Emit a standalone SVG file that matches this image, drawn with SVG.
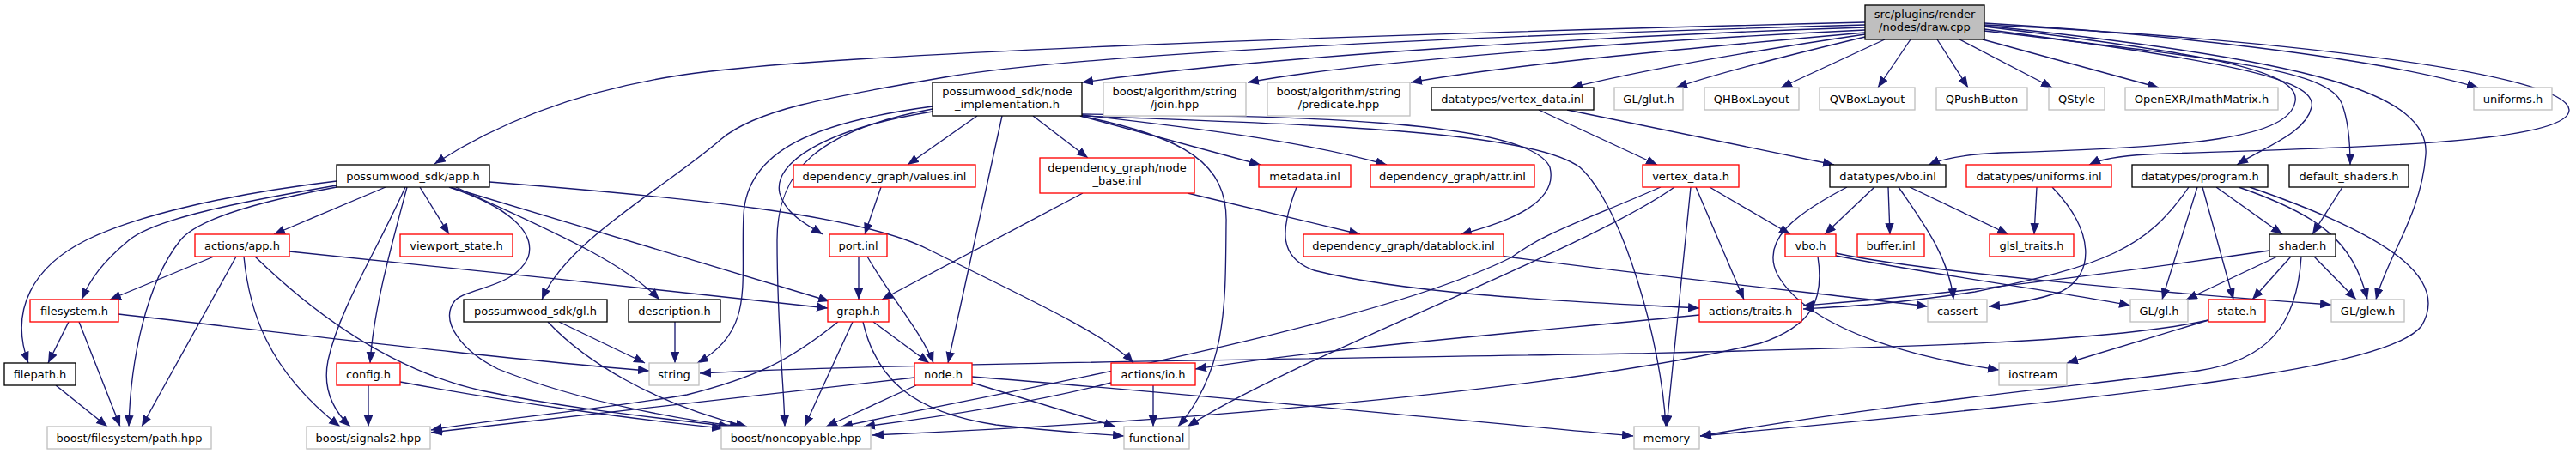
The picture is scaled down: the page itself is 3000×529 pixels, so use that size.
<svg xmlns="http://www.w3.org/2000/svg" width="3000" height="529" viewBox="0 0 3000 529">
<defs>
<style>
.e path{fill:none;stroke:#191970;stroke-width:1.33;marker-end:url(#ar)}
.n rect{fill:#fff;stroke-width:1.33}
.doc rect{stroke:#000}
.trunc rect{stroke:#ff0000}
.undoc rect{stroke:#bfbfbf}
.root rect{fill:#bfbfbf;stroke:#000}
text{font-family:"DejaVu Sans","Liberation Sans",sans-serif;font-size:13px;text-anchor:middle;fill:#000}
</style>
<marker id="ar" markerUnits="userSpaceOnUse" markerWidth="15" markerHeight="12" refX="13" refY="5.25" orient="auto">
<path d="M0,0 L13,5.25 L0,10.5 Z" fill="#191970"/>
</marker>
</defs>
<rect width="3000" height="529" fill="#fff"/>
<g id="edges" class="e">
<path d="M2172,26 C1600,40 950,62 790,88 C700,102 600,130 506,191"/>
<path d="M2172,29 C1700,42 1250,64 1100,90 C960,114 880,128 840,162 C780,215 660,280 631,349"/>
<path d="M2172,32 C1850,42 1450,68 1260,96"/>
<path d="M2172,35 C1900,48 1580,72 1453,96"/>
<path d="M2172,38 C1980,55 1760,75 1643,96"/>
<path d="M2172,40 C2050,58 1920,80 1830,102"/>
<path d="M2172,43 C2080,65 2000,85 1952,102"/>
<path d="M2195,46 L2074,102"/>
<path d="M2225,46 L2187,102"/>
<path d="M2256,46 L2292,102"/>
<path d="M2282,46 L2390,102"/>
<path d="M2309,46 L2514,102"/>
<path d="M2311,27 C2500,38 2760,65 2886,102"/>
<path d="M2311,31 C2550,60 2680,80 2673,118 C2666,160 2560,172 2330,178 C2285,180 2262,185 2246,192"/>
<path d="M2311,29 C2650,45 2990,85 2992,128 C2993,170 2700,172 2500,180 C2465,182 2445,186 2433,192"/>
<path d="M2311,34 C2580,70 2700,90 2692,125 C2685,155 2640,170 2605,192"/>
<path d="M2311,36 C2600,70 2710,82 2727,120 C2735,140 2737,165 2737,192"/>
<path d="M2311,30 C2700,70 2830,110 2825,180 C2820,250 2780,300 2767,349"/>
<path d="M1138,135 L1057,192"/>
<path d="M1203,135 L1267,184"/>
<path d="M1086,130 C960,150 900,190 908,225 C915,250 940,262 958,273"/>
<path d="M1086,124 C950,142 870,175 866,250 C862,330 880,385 812,423"/>
<path d="M1086,127 C950,152 905,200 905,280 C905,380 913,450 914,497"/>
<path d="M1167,135 L1104,423"/>
<path d="M1258,135 C1380,160 1430,190 1428,260 C1427,350 1430,430 1372,497"/>
<path d="M1258,135 L1468,192"/>
<path d="M1260,134 C1400,150 1520,165 1615,192"/>
<path d="M1260,133 C1450,135 1780,135 1805,195 C1815,235 1760,258 1701,273"/>
<path d="M1260,135 C1500,145 1780,150 1840,195 C1890,240 1935,400 1940,497"/>
<path d="M392,211 C250,228 150,255 100,280 C40,310 10,360 33,423"/>
<path d="M392,216 C280,235 180,255 150,280 C120,305 105,325 95,349"/>
<path d="M392,218 C300,235 230,255 210,280 C170,330 152,420 150,497"/>
<path d="M449,218 L319,273"/>
<path d="M489,218 L523,273"/>
<path d="M472,218 C440,290 395,360 382,420 C375,455 390,480 408,497"/>
<path d="M474,218 C455,290 435,360 431,423"/>
<path d="M524,218 L966,351"/>
<path d="M531,218 C620,260 720,300 768,349"/>
<path d="M523,218 C590,240 625,270 615,300 C600,335 545,335 530,350 C510,375 540,410 580,430 C680,470 800,490 863,497"/>
<path d="M570,212 C800,230 1000,250 1080,290 C1180,340 1290,390 1320,423"/>
<path d="M249,299 L128,349"/>
<path d="M275,299 L165,497"/>
<path d="M284,299 C290,360 310,430 396,497"/>
<path d="M297,299 C360,360 450,430 560,455 C680,480 800,490 850,497"/>
<path d="M337,293 C500,310 800,340 964,359"/>
<path d="M80,375 L56,423"/>
<path d="M92,375 L140,497"/>
<path d="M138,366 C350,390 600,420 756,432"/>
<path d="M65,449 L125,497"/>
<path d="M429,449 L429,497"/>
<path d="M466,445 C600,470 750,490 842,499"/>
<path d="M651,375 L751,423"/>
<path d="M638,375 C680,420 760,470 870,497"/>
<path d="M786,375 L786,423"/>
<path d="M1017,375 L1082,423"/>
<path d="M993,375 L937,497"/>
<path d="M976,375 C920,420 880,440 800,460 C680,480 560,490 502,501"/>
<path d="M1005,375 C1020,440 1060,480 1160,495 C1230,503 1270,505 1309,508"/>
<path d="M1000,299 L1000,349"/>
<path d="M1010,299 C1040,350 1075,390 1087,423"/>
<path d="M1026,218 L1007,273"/>
<path d="M1261,225 L1027,349"/>
<path d="M1383,225 L1584,273"/>
<path d="M1510,218 C1490,270 1490,300 1530,315 C1650,345 1850,352 1979,359"/>
<path d="M1746,298 C1950,325 2150,345 2245,357"/>
<path d="M1792,128 L1930,192"/>
<path d="M1825,128 L2136,192"/>
<path d="M1991,218 L2085,273"/>
<path d="M1975,218 L2031,349"/>
<path d="M1969,218 L1941,497"/>
<path d="M1934,218 C1850,255 1800,270 1760,300 C1600,380 1200,450 980,497"/>
<path d="M1950,218 C1850,290 1500,420 1383,497"/>
<path d="M2183,218 L2125,273"/>
<path d="M2199,218 L2201,273"/>
<path d="M2211,218 C2240,260 2270,300 2275,349"/>
<path d="M2224,218 L2339,273"/>
<path d="M2151,218 C2090,250 2050,280 2070,320 C2110,390 2250,420 2328,431"/>
<path d="M2372,218 L2369,273"/>
<path d="M2390,218 C2440,270 2440,320 2400,340 C2370,350 2340,355 2316,357"/>
<path d="M2138,298 C2250,320 2400,340 2481,356"/>
<path d="M2138,295 C2230,315 2500,340 2715,355"/>
<path d="M2117,299 C2125,350 2110,380 2050,400 C1800,460 1300,495 1016,507"/>
<path d="M2549,218 C2500,290 2450,310 2300,340 C2200,355 2150,357 2100,360"/>
<path d="M2559,218 L2518,349"/>
<path d="M2565,218 L2601,349"/>
<path d="M2581,218 L2658,273"/>
<path d="M2607,218 C2700,250 2740,280 2757,349"/>
<path d="M2620,218 C2800,280 2850,330 2820,380 C2780,430 2500,460 1980,508"/>
<path d="M2728,218 L2693,273"/>
<path d="M2643,292 C2450,320 2250,345 2100,356"/>
<path d="M2652,299 L2546,349"/>
<path d="M2668,299 L2623,349"/>
<path d="M2695,299 L2744,349"/>
<path d="M2680,299 C2675,380 2640,420 2560,432 C2420,450 2200,470 1980,508"/>
<path d="M2572,373 L2407,423"/>
<path d="M2572,373 C2450,400 2200,405 1900,412 C1400,420 1000,425 815,435"/>
<path d="M1979,367 C1800,385 1550,405 1392,430"/>
<path d="M1065,440 C900,460 700,480 502,504"/>
<path d="M1067,449 L962,497"/>
<path d="M1132,446 L1299,497"/>
<path d="M1132,439 C1400,460 1700,490 1902,508"/>
<path d="M1343,449 L1343,497"/>
<path d="M1294,446 C1200,470 1100,485 1006,497"/>
</g>
<g id="n_draw" class="n root"><rect x="2172" y="6" width="139" height="40"/><text x="2241.5" y="21">src/plugins/render</text><text x="2241.5" y="36">/nodes/draw.cpp</text></g>
<g id="n_node_impl" class="n doc"><rect x="1086" y="96" width="174" height="39"/><text x="1173" y="110.5">possumwood_sdk/node</text><text x="1173" y="125.5">_implementation.h</text></g>
<g id="n_join" class="n undoc"><rect x="1285" y="96" width="166" height="39"/><text x="1368" y="110.5">boost/algorithm/string</text><text x="1368" y="125.5">/join.hpp</text></g>
<g id="n_predicate" class="n undoc"><rect x="1476" y="96" width="166" height="39"/><text x="1559" y="110.5">boost/algorithm/string</text><text x="1559" y="125.5">/predicate.hpp</text></g>
<g id="n_vertex_data_inl" class="n doc"><rect x="1667" y="102" width="189" height="26"/><text x="1761.5" y="119.5">datatypes/vertex_data.inl</text></g>
<g id="n_glut" class="n undoc"><rect x="1880" y="102" width="80" height="26"/><text x="1920" y="119.5">GL/glut.h</text></g>
<g id="n_qhbox" class="n undoc"><rect x="1985" y="102" width="110" height="26"/><text x="2040" y="119.5">QHBoxLayout</text></g>
<g id="n_qvbox" class="n undoc"><rect x="2119" y="102" width="111" height="26"/><text x="2174.5" y="119.5">QVBoxLayout</text></g>
<g id="n_qpush" class="n undoc"><rect x="2255" y="102" width="106" height="26"/><text x="2308" y="119.5">QPushButton</text></g>
<g id="n_qstyle" class="n undoc"><rect x="2386" y="102" width="65" height="26"/><text x="2418.5" y="119.5">QStyle</text></g>
<g id="n_openexr" class="n undoc"><rect x="2475" y="102" width="178" height="26"/><text x="2564" y="119.5">OpenEXR/ImathMatrix.h</text></g>
<g id="n_uniforms_h" class="n undoc"><rect x="2881" y="102" width="91" height="26"/><text x="2926.5" y="119.5">uniforms.h</text></g>
<g id="n_app_h" class="n doc"><rect x="392" y="192" width="178" height="26"/><text x="481" y="209.5">possumwood_sdk/app.h</text></g>
<g id="n_values" class="n trunc"><rect x="924" y="192" width="212" height="26"/><text x="1030" y="209.5">dependency_graph/values.inl</text></g>
<g id="n_node_base" class="n trunc"><rect x="1211" y="184" width="180" height="41"/><text x="1301" y="199.5">dependency_graph/node</text><text x="1301" y="214.5">_base.inl</text></g>
<g id="n_metadata" class="n trunc"><rect x="1466" y="192" width="107" height="26"/><text x="1519.5" y="209.5">metadata.inl</text></g>
<g id="n_attr" class="n trunc"><rect x="1596" y="192" width="191" height="26"/><text x="1691.5" y="209.5">dependency_graph/attr.inl</text></g>
<g id="n_vertex_data_h" class="n trunc"><rect x="1913" y="192" width="112" height="26"/><text x="1969" y="209.5">vertex_data.h</text></g>
<g id="n_vbo_inl" class="n doc"><rect x="2131" y="192" width="135" height="26"/><text x="2198.5" y="209.5">datatypes/vbo.inl</text></g>
<g id="n_uniforms_inl" class="n trunc"><rect x="2290" y="192" width="169" height="26"/><text x="2374.5" y="209.5">datatypes/uniforms.inl</text></g>
<g id="n_program" class="n doc"><rect x="2483" y="192" width="158" height="26"/><text x="2562" y="209.5">datatypes/program.h</text></g>
<g id="n_default_shaders" class="n doc"><rect x="2666" y="192" width="139" height="26"/><text x="2735.5" y="209.5">default_shaders.h</text></g>
<g id="n_actions_app" class="n trunc"><rect x="227" y="273" width="110" height="26"/><text x="282" y="290.5">actions/app.h</text></g>
<g id="n_viewport" class="n trunc"><rect x="466" y="273" width="131" height="26"/><text x="531.5" y="290.5">viewport_state.h</text></g>
<g id="n_port" class="n trunc"><rect x="966" y="273" width="67" height="26"/><text x="999.5" y="290.5">port.inl</text></g>
<g id="n_datablock" class="n trunc"><rect x="1518" y="273" width="233" height="26"/><text x="1634.5" y="290.5">dependency_graph/datablock.inl</text></g>
<g id="n_vbo_h" class="n trunc"><rect x="2079" y="273" width="59" height="26"/><text x="2108.5" y="290.5">vbo.h</text></g>
<g id="n_buffer" class="n trunc"><rect x="2163" y="273" width="78" height="26"/><text x="2202" y="290.5">buffer.inl</text></g>
<g id="n_glsl" class="n trunc"><rect x="2317" y="273" width="98" height="26"/><text x="2366" y="290.5">glsl_traits.h</text></g>
<g id="n_shader" class="n doc"><rect x="2643" y="273" width="77" height="26"/><text x="2681.5" y="290.5">shader.h</text></g>
<g id="n_filesystem" class="n trunc"><rect x="35" y="349" width="103" height="26"/><text x="86.5" y="366.5">filesystem.h</text></g>
<g id="n_gl_h" class="n doc"><rect x="540" y="349" width="167" height="26"/><text x="623.5" y="366.5">possumwood_sdk/gl.h</text></g>
<g id="n_description" class="n doc"><rect x="732" y="349" width="107" height="26"/><text x="785.5" y="366.5">description.h</text></g>
<g id="n_graph" class="n trunc"><rect x="964" y="349" width="71" height="26"/><text x="999.5" y="366.5">graph.h</text></g>
<g id="n_traits" class="n trunc"><rect x="1979" y="349" width="119" height="26"/><text x="2038.5" y="366.5">actions/traits.h</text></g>
<g id="n_cassert" class="n undoc"><rect x="2245" y="349" width="69" height="26"/><text x="2279.5" y="366.5">cassert</text></g>
<g id="n_glgl" class="n undoc"><rect x="2481" y="349" width="67" height="26"/><text x="2514.5" y="366.5">GL/gl.h</text></g>
<g id="n_state" class="n trunc"><rect x="2572" y="349" width="66" height="26"/><text x="2605" y="366.5">state.h</text></g>
<g id="n_glew" class="n undoc"><rect x="2715" y="349" width="85" height="26"/><text x="2757.5" y="366.5">GL/glew.h</text></g>
<g id="n_filepath" class="n doc"><rect x="5" y="423" width="83" height="26"/><text x="46.5" y="440.5">filepath.h</text></g>
<g id="n_config" class="n trunc"><rect x="392" y="423" width="74" height="26"/><text x="429" y="440.5">config.h</text></g>
<g id="n_string" class="n undoc"><rect x="756" y="423" width="58" height="26"/><text x="785" y="440.5">string</text></g>
<g id="n_node_h" class="n trunc"><rect x="1065" y="423" width="67" height="26"/><text x="1098.5" y="440.5">node.h</text></g>
<g id="n_io" class="n trunc"><rect x="1294" y="423" width="98" height="26"/><text x="1343" y="440.5">actions/io.h</text></g>
<g id="n_iostream" class="n undoc"><rect x="2328" y="423" width="79" height="26"/><text x="2367.5" y="440.5">iostream</text></g>
<g id="n_path" class="n undoc"><rect x="55" y="497" width="191" height="26"/><text x="150.5" y="514.5">boost/filesystem/path.hpp</text></g>
<g id="n_signals2" class="n undoc"><rect x="357" y="497" width="144" height="26"/><text x="429" y="514.5">boost/signals2.hpp</text></g>
<g id="n_noncopyable" class="n undoc"><rect x="840" y="497" width="174" height="26"/><text x="927" y="514.5">boost/noncopyable.hpp</text></g>
<g id="n_functional" class="n undoc"><rect x="1309" y="497" width="76" height="26"/><text x="1347" y="514.5">functional</text></g>
<g id="n_memory" class="n undoc"><rect x="1903" y="497" width="76" height="26"/><text x="1941" y="514.5">memory</text></g>
</svg>
